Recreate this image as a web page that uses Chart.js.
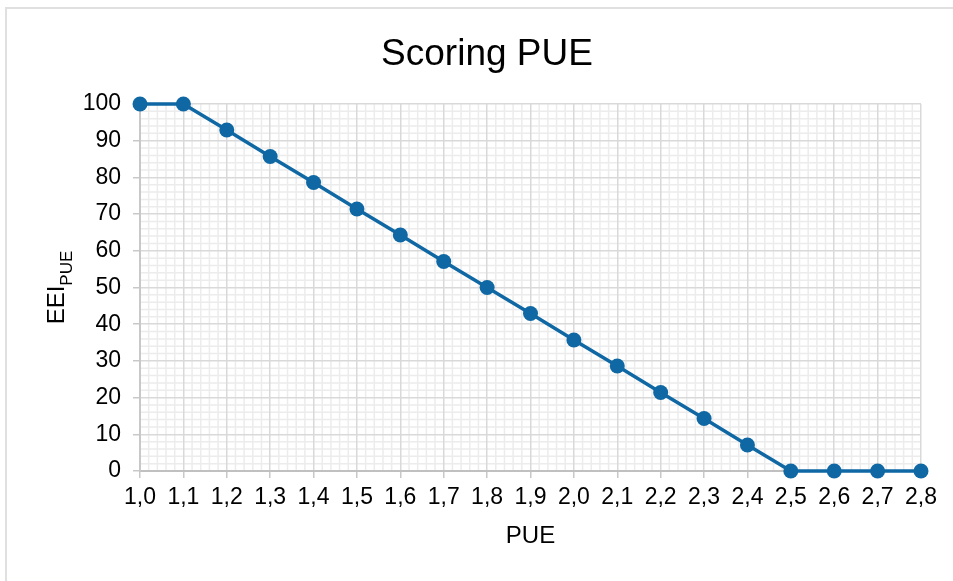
<!DOCTYPE html>
<html>
<head>
<meta charset="utf-8">
<script src="https://cdn.jsdelivr.net/npm/chart.js@4"></script>
<style>
  html, body { margin: 0; padding: 0; background: #fff; }
  #wrap { position: relative; width: 953px; height: 581px; overflow: hidden; }
  #frame { position: absolute; left: 5px; top: 7px; width: 2000px; height: 2000px;
           border-left: 2px solid #e0e0e0; border-top: 2px solid #e0e0e0; }
  canvas { position: absolute; left: 0; top: 0; }
</style>
</head>
<body>
<div id="wrap">
  <div id="frame"></div>
  <canvas id="c" width="953" height="581"></canvas>
</div>
<script>
const chartTitle = 'Scoring PUE';
const xTitle = 'PUE';
const yTitleMain = 'EEI';
const yTitleSub = 'PUE';
const pueLabels = ['1,0','1,1','1,2','1,3','1,4','1,5','1,6','1,7','1,8','1,9',
                   '2,0','2,1','2,2','2,3','2,4','2,5','2,6','2,7','2,8'];
const eeiValues = [100, 100, 92.9, 85.7, 78.6, 71.4, 64.3, 57.1, 50.0, 42.9,
                   35.7, 28.6, 21.4, 14.3, 7.1, 0, 0, 0, 0];
const yTicksMin = 0, yTicksMax = 100, yTickStep = 10;

const FONT = "'Liberation Sans', Arial, sans-serif";
const BLUE = '#0f68a4';

const minorGrid = {
  id: 'minorGrid',
  beforeDraw(chart) {
    const {ctx, chartArea: a, scales: {x, y}} = chart;
    ctx.save();
    ctx.strokeStyle = '#ececec';
    ctx.lineWidth = 1.5;
    ctx.beginPath();
    for (let i = 0; i < pueLabels.length - 1; i++) {
      const p0 = x.getPixelForValue(i), p1 = x.getPixelForValue(i + 1);
      for (let k = 1; k < 5; k++) {
        const px = p0 + (p1 - p0) * k / 5;
        ctx.moveTo(px, a.top); ctx.lineTo(px, a.bottom);
      }
    }
    for (let v = yTicksMin; v < yTicksMax; v += yTickStep) {
      const p0 = y.getPixelForValue(v), p1 = y.getPixelForValue(v + yTickStep);
      for (let k = 1; k < 5; k++) {
        const py = p0 + (p1 - p0) * k / 5;
        ctx.moveTo(a.left, py); ctx.lineTo(a.right, py);
      }
    }
    ctx.stroke();
    ctx.restore();
  }
};

const titlesPlugin = {
  id: 'titles',
  afterDraw(chart) {
    const {ctx, chartArea: a} = chart;
    ctx.save();
    ctx.fillStyle = '#000';
    ctx.font = '37px ' + FONT;
    ctx.textAlign = 'center';
    ctx.textBaseline = 'alphabetic';
    ctx.fillText(chartTitle, 487, 65);
    const cy = (a.top + a.bottom) / 2;
    ctx.textAlign = 'left';
    ctx.translate(64, cy);
    ctx.rotate(-Math.PI / 2);
    ctx.font = '24px ' + FONT;
    const w1 = ctx.measureText(yTitleMain).width;
    ctx.font = '17px ' + FONT;
    const w2 = ctx.measureText(yTitleSub).width;
    const start = -(w1 + w2) / 2;
    ctx.font = '24px ' + FONT;
    ctx.fillText(yTitleMain, start, 0);
    ctx.font = '17px ' + FONT;
    ctx.fillText(yTitleSub, start + w1, 8);
    ctx.restore();
  }
};

new Chart(document.getElementById('c'), {
  type: 'line',
  data: {
    labels: pueLabels,
    datasets: [{
      data: eeiValues,
      borderColor: BLUE,
      backgroundColor: BLUE,
      borderWidth: 3.5,
      pointRadius: 7.5,
      pointHoverRadius: 7.5,
      pointBackgroundColor: BLUE,
      pointBorderColor: BLUE,
      pointBorderWidth: 0,
      tension: 0,
      clip: false
    }]
  },
  options: {
    responsive: false,
    animation: false,
    events: [],
    layout: { padding: { left: 0, right: 32, top: 104, bottom: 0 } },
    plugins: {
      legend: { display: false },
      tooltip: { enabled: false },
      title: { display: false }
    },
    scales: {
      x: {
        type: 'category',
        offset: false,
        grid: { color: '#d9d9d9', lineWidth: 1.5, tickLength: 7, tickColor: '#c8c8c8' },
        border: { display: true, color: '#c0c0c0', width: 2 },
        ticks: { color: '#000', font: { family: FONT, size: 23 }, padding: 6, maxRotation: 0, autoSkip: false },
        title: { display: true, text: xTitle, color: '#000', font: { family: FONT, size: 24 }, padding: { top: 0, bottom: 30 } },
        afterFit(s) { s.height = 110; }
      },
      y: {
        min: yTicksMin, max: yTicksMax,
        grid: { color: '#d9d9d9', lineWidth: 1.5, tickLength: 7, tickColor: '#c8c8c8' },
        border: { display: true, color: '#c8c8c8', width: 2 },
        ticks: { stepSize: yTickStep, color: '#000', font: { family: FONT, size: 23 }, padding: 12 },
        afterFit(s) { s.width = 140; }
      }
    }
  },
  plugins: [minorGrid, titlesPlugin]
});
</script>
</body>
</html>
